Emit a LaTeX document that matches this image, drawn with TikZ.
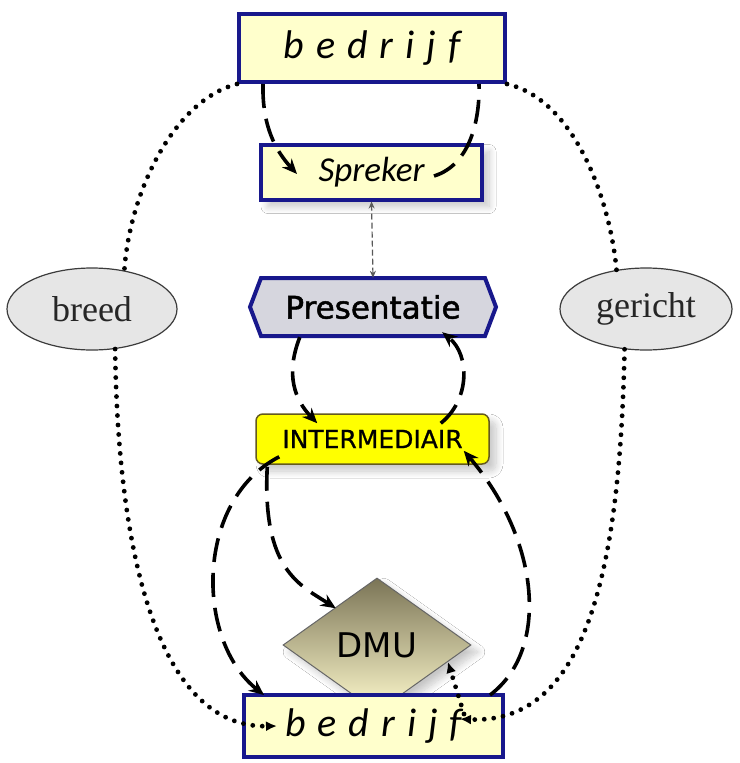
\documentclass[tikz,border=0pt]{standalone}
\usepackage{fontspec}
\usetikzlibrary{arrows.meta,calc,shapes.geometric,shadows.blur}
\newfontfamily\boxfont{Carlito}
\newfontfamily\labelfont{DejaVu Sans}
\newfontfamily\heavylabelfont[FakeBold=1.6]{DejaVu Sans}
\newfontfamily\midlabelfont[FakeBold=0.8]{DejaVu Sans}
\newfontfamily\ovalfont{Liberation Serif}
\definecolor{navy}{RGB}{24,24,140}
\definecolor{paleyellow}{RGB}{255,255,204}
\definecolor{presgray}{RGB}{214,214,222}
\definecolor{brightyellow}{RGB}{255,255,0}
\definecolor{olive}{RGB}{100,90,30}
\definecolor{ovalgray}{RGB}{230,230,230}
\definecolor{ovaledge}{RGB}{60,60,60}
\definecolor{dmutop}{RGB}{122,116,86}
\definecolor{dmumid}{RGB}{205,198,158}
\definecolor{dmubottom}{RGB}{255,250,205}
\begin{document}
\begin{tikzpicture}[x=1pt,y=-1pt,
  bluebox/.style={draw=navy, line width=4pt, fill=paleyellow, inner sep=0pt},
  bigword/.style={font=\boxfont\itshape\fontsize{40}{42}\selectfont},
  softshadow/.style={blur shadow={shadow xshift=7pt, shadow yshift=-7pt,
    shadow blur radius=7pt, shadow blur steps=12, shadow opacity=22}},
  oval/.style={ellipse, draw=ovaledge, line width=1.2pt, fill=ovalgray, inner sep=0pt,
    text=black!85, font=\ovalfont\fontsize{36}{40}\selectfont},
  flowdash/.style={line width=3.6pt, dash pattern=on 24pt off 11pt,
    -{Stealth[length=15pt, width=13pt]}},
  plaindash/.style={line width=3.6pt, dash pattern=on 24pt off 11pt},
  dotline/.style={line width=4.8pt, dash pattern=on 0pt off 9.5pt, line cap=round},
  dotarrow/.style={dotline, -{Latex[length=11pt, width=10pt]}},
  thinlink/.style={draw=black!65, line width=1.2pt, dash pattern=on 6pt off 3pt,
    {Stealth[length=7pt, width=6pt]}-{Stealth[length=7pt, width=6pt]}}
]
\fill[white] (0,0) rectangle (739,763);
\useasboundingbox (0,0) rectangle (739,763);

% boxes
\node[bluebox, bigword, minimum width=266pt, minimum height=68pt] (top) at (372,48)
  {\spaceskip=12pt b e d r i j f};
\node[bluebox, font=\boxfont\itshape\fontsize{35}{38}\selectfont,
  minimum width=221pt, minimum height=55pt, softshadow] (spk) at (371.5,172) {Spreker};

% hexagonal plate behind the Presentatie label
\coordinate (pc) at (373,307);
\draw[navy, line width=4pt, fill=presgray, line join=miter]
  ($(pc)+(-112,-29)$) -- ($(pc)+(112,-29)$) -- ($(pc)+(123,0)$)
  -- ($(pc)+(112,29)$) -- ($(pc)+(-112,29)$) -- ($(pc)+(-123,0)$) -- cycle;
\node[font=\heavylabelfont\fontsize{31}{34}\selectfont, inner sep=0pt,
  minimum width=224pt, minimum height=58pt] (pres) at (pc) {Presentatie};

\node[draw=olive, line width=1.5pt, fill=brightyellow, rounded corners=7pt,
  minimum width=233pt, minimum height=50pt, inner sep=0pt,
  font=\midlabelfont\fontsize{25}{28}\selectfont, softshadow] (inter) at (372.5,439) {INTERMEDIAIR};

\node[diamond, draw=black!60, line width=1pt, minimum width=188pt, minimum height=134pt,
  inner sep=0pt, shading=axis, top color=dmutop, middle color=dmumid, bottom color=dmubottom,
  font=\labelfont\fontsize{34}{36}\selectfont, softshadow] (dmu) at (377,645) {DMU};

\node[bluebox, bigword, minimum width=259pt, minimum height=62pt] (bot) at (373.5,726)
  {\spaceskip=12pt b e d r i j f};

% side labels
\node[oval, minimum width=170pt, minimum height=82pt] (breed) at (92,309) {breed};
\node[oval, minimum width=172pt, minimum height=82pt] (gericht) at (646,309) {gericht};

% free ends of connectors
\coordinate (botin) at ($(bot.west)+(35,0)$);
\coordinate (botout) at ($(bot.east)+(-45,-7)$);
\coordinate (dmuside) at ($(dmu.east)!0.25!(dmu.south)$);

% dotted routes round the sides
\draw[dotline] (top.south west) .. controls (175,100) and (130,190) .. (breed.50);
\draw[dotarrow] (breed.-60) .. controls (118,560) and (160,728) .. (botin);
\draw[dotline] (top.south east) .. controls (575,100) and (610,200) .. (gericht.127);
\draw[dotarrow] (gericht.-118) .. controls (620,560) and (590,725) .. (botout);
\draw[dotarrow] ($(bot.east)+(-41,-12)$) -- (dmuside);

% thin link between Spreker and Presentatie
\draw[thinlink] (pres.north) -- (spk.south);

% dashed flows
\draw[flowdash] ($(top.south west)+(26,0)$) .. controls (262,125) and (275,150) .. ($(spk.west)+(38,2)$);
\draw[plaindash] ($(spk.east)+(-50,4)$) .. controls (470,165) and (480,120) .. ($(top.south east)+(-28,0)$);
\draw[flowdash] ($(pres.south west)+(39,1)$) .. controls (285,375) and (295,400) .. ($(inter.north west)+(62,10)$);
\draw[flowdash] ($(inter.north east)+(-49,10)$) .. controls (470,400) and (470,355) .. ($(pres.south east)+(-43,-4)$);
\draw[flowdash] ($(inter.south west)+(24,-8)$) .. controls (195,500) and (195,640) .. ($(bot.north west)+(22,2)$);
\draw[flowdash] ($(inter.south west)+(12,2)$) .. controls (262,570) and (300,585) .. ($(dmu.north west)+(6,-3)$);
\draw[flowdash] ($(bot.north east)+(-15,2)$) .. controls (550,650) and (540,540) .. ($(inter.south east)+(-26,-14)$);
\end{tikzpicture}
\end{document}
